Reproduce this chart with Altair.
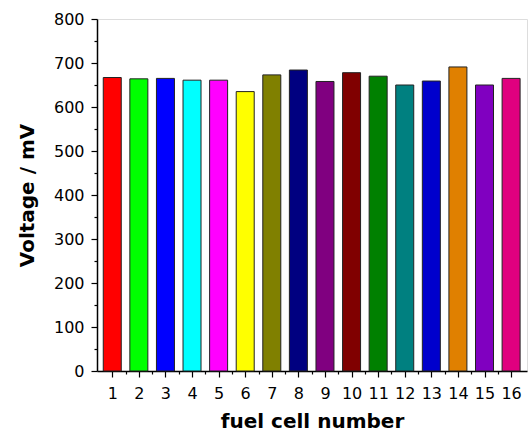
import altair as alt
import pandas as pd

cells = list(range(1, 17))
voltages = [667, 664, 665, 661, 661, 635, 673, 684, 658, 678, 670, 650, 659, 691, 650, 665]
colors = ["#FF0000", "#00FF00", "#0000FF", "#00FFFF", "#FF00FF", "#FFFF00",
          "#808000", "#000080", "#800080", "#800000", "#008000", "#008080",
          "#0000CC", "#E08000", "#8000C0", "#E0007F"]
x_ticks = [v / 2 for v in range(2, 33)]          # 1, 1.5, ..., 16
y_ticks = list(range(0, 801, 50))

df = pd.DataFrame({"cell": cells, "voltage": voltages, "color": colors})

FONT = "DejaVu Sans"

chart = alt.Chart(df).mark_bar(size=18, stroke="#222222", strokeWidth=1).encode(
    x=alt.X("cell:Q",
            scale=alt.Scale(domain=[0.614, 16.41], nice=False, zero=False),
            axis=alt.Axis(values=x_ticks, title="fuel cell number",
                          labelExpr="datum.value % 1 == 0 ? format(datum.value, 'd') : ''",
                          labelOverlap=False, grid=False,
                          tickSize={"condition": {"test": "datum.value % 1 != 0", "value": 3}, "value": 6},
                          tickColor="black", domainColor="black", tickWidth=1.2, domainWidth=1.5,
                          labelFont=FONT, labelFontSize=16, labelColor="black", labelPadding=8,
                          titleFont=FONT, titleFontSize=20, titleFontWeight="bold",
                          titleColor="black", titlePadding=10)),
    y=alt.Y("voltage:Q",
            scale=alt.Scale(domain=[0, 800], nice=False),
            axis=alt.Axis(values=y_ticks, title="Voltage / mV",
                          labelExpr="datum.value % 100 == 0 ? format(datum.value, 'd') : ''",
                          labelOverlap=False, grid=False,
                          tickSize={"condition": {"test": "datum.value % 100 != 0", "value": 3}, "value": 6},
                          tickColor="black", domainColor="black", tickWidth=1.2, domainWidth=1.5,
                          labelFont=FONT, labelFontSize=16, labelColor="black", labelPadding=7,
                          titleFont=FONT, titleFontSize=20, titleFontWeight="bold",
                          titleColor="black", titlePadding=16)),
    color=alt.Color("color:N", scale=None),
).properties(
    width=430, height=352,
    autosize=alt.AutoSizeParams(type="none"),
    padding={"left": 97, "top": 19, "right": 5, "bottom": 60},
).configure_view(stroke=None).configure(background="white")

chart.save("out.html", embed_options={"renderer": "svg", "actions": False})
